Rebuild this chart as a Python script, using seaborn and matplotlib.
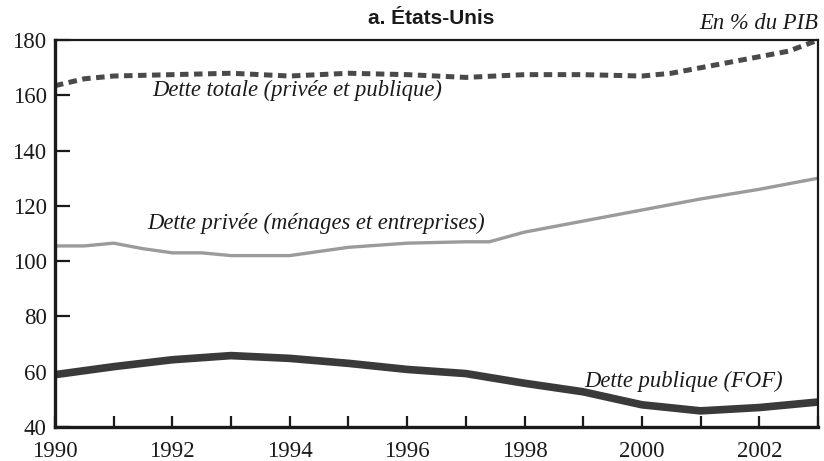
import matplotlib
matplotlib.use("Agg")
import matplotlib.pyplot as plt
import seaborn as sns
from matplotlib.ticker import MultipleLocator

# Debt ratios, United States, % of GDP
years_total = [1990, 1990.5, 1991, 1992, 1993, 1994, 1995, 1996, 1997, 1998,
               1999, 2000, 2000.5, 2001, 2001.5, 2002, 2002.5, 2003]
dette_totale = [163.5, 166, 167, 167.5, 168, 167, 168, 167.5, 166.5, 167.5,
                167.5, 167, 168, 170, 172, 174, 176, 180]

years_privee = [1990, 1990.5, 1991, 1991.5, 1992, 1992.5, 1993, 1994, 1994.5,
                1995, 1996, 1997, 1997.4, 1998, 1999, 2000, 2001, 2002, 2003]
dette_privee = [105.5, 105.5, 106.5, 104.5, 103, 103, 102, 102, 103.5,
                105, 106.5, 107, 107, 110.5, 114.5, 118.5, 122.5, 126, 130]

years_publique = [1990, 1991, 1992, 1993, 1994, 1995, 1996, 1997, 1998,
                  1999, 2000, 2001, 2002, 2003]
dette_publique = [58.9, 61.8, 64.3, 65.8, 64.8, 63, 60.8, 59.3, 55.8,
                  52.7, 48, 45.8, 47, 49]

x_ticks = [1990, 1992, 1994, 1996, 1998, 2000, 2002]
y_ticks = [40, 60, 80, 100, 120, 140, 160, 180]

sns.set_theme(style="white")
plt.rcParams["font.family"] = ["Liberation Serif", "DejaVu Serif"]

fig = plt.figure(figsize=(8.24, 4.61), dpi=100)
ax = fig.add_axes([0.0667, 0.074, 0.926, 0.839])

sns.lineplot(x=years_total, y=dette_totale, ax=ax, color="#4a4a4a",
             linewidth=3.6, linestyle=(0, (1.7, 1.1)))
sns.lineplot(x=years_privee, y=dette_privee, ax=ax, color="#9b9b9b",
             linewidth=2.4)
sns.lineplot(x=years_publique, y=dette_publique, ax=ax, color="#3a3a3a",
             linewidth=5.5)

ax.set_xlim(1990, 2003)
ax.set_ylim(40, 180)
ax.set_xticks(x_ticks)
ax.xaxis.set_minor_locator(MultipleLocator(1))
ax.set_yticks(y_ticks)
ax.set_xlabel("")
ax.set_ylabel("")

ax.tick_params(axis="x", which="both", bottom=True, direction="in", length=8,
               width=1.6, labelsize=16.5, pad=10, color="#1a1a1a",
               labelcolor="#1a1a1a")
ax.tick_params(axis="y", which="both", left=True, direction="in", length=11,
               width=1.6, labelsize=16.5, pad=6, color="#1a1a1a",
               labelcolor="#1a1a1a")

for side, lw in (("left", 2.4), ("bottom", 2.4), ("top", 1.6), ("right", 1.6)):
    ax.spines[side].set_visible(True)
    ax.spines[side].set_color("#1a1a1a")
    ax.spines[side].set_linewidth(lw)

label_style = dict(fontsize=16.3, style="italic", color="#1a1a1a")
ax.text(1991.65, 161.7, "Dette totale (privée et publique)", ha="left", va="center", **label_style)
ax.text(1991.58, 113.8, "Dette privée (ménages et entreprises)", ha="left", va="center", **label_style)
ax.text(1999.02, 56.3, "Dette publique (FOF)", ha="left", va="center", **label_style)

fig.text(0.523, 0.96, "a. États-Unis", ha="center", va="center",
         fontsize=15, fontweight="bold", family=["Liberation Sans", "DejaVu Sans"],
         color="#1a1a1a")
fig.text(0.993, 0.95, "En % du PIB", ha="right", va="center",
         fontsize=16.3, style="italic", color="#1a1a1a")

fig.savefig("out.png", dpi=100)
